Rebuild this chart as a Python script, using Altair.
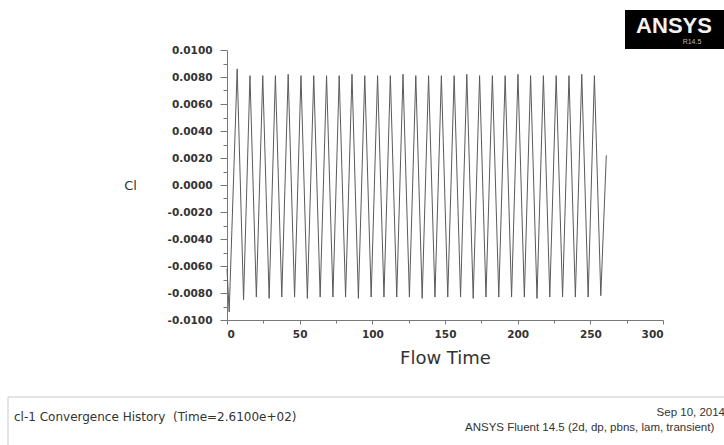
import altair as alt
import pandas as pd

# ---- data ----
start_t = [0.0, 1.5]
start_cl = [-0.0062, -0.0094]
peak_t = [7.0, 15.8, 24.6, 33.3, 42.1, 50.9, 59.7, 68.5, 77.2, 86.0, 94.8, 103.6, 112.4, 121.1, 129.9,
          138.7, 147.5, 156.3, 165.0, 173.8, 182.6, 191.4, 200.2, 208.9, 217.7, 226.5, 235.3, 244.1, 252.8]
peak_cl = [0.0086, 0.0081, 0.0081, 0.0081, 0.0082, 0.0081, 0.0081, 0.0081, 0.0081, 0.0082, 0.0081, 0.0081,
           0.0081, 0.0082, 0.0081, 0.0081, 0.0081, 0.0081, 0.0082, 0.0081, 0.0081, 0.0081, 0.0082, 0.0081,
           0.0081, 0.0081, 0.0081, 0.0082, 0.0081]
trough_t = [11.4, 20.2, 29.0, 37.7, 46.5, 55.3, 64.1, 72.9, 81.6, 90.4, 99.2, 108.0, 116.8, 125.5, 134.3,
            143.1, 151.9, 160.7, 169.4, 178.2, 187.0, 195.8, 204.6, 213.3, 222.1, 230.9, 239.7, 248.5, 257.2]
trough_cl = [-0.0085, -0.0083, -0.0084, -0.0083, -0.0083, -0.0084, -0.0083, -0.0083, -0.0083, -0.0084,
             -0.0083, -0.0083, -0.0083, -0.0083, -0.0084, -0.0083, -0.0083, -0.0083, -0.0084, -0.0083,
             -0.0083, -0.0083, -0.0083, -0.0084, -0.0083, -0.0083, -0.0083, -0.0083, -0.0082]
end_t = [261.0]
end_cl = [0.0022]

x_ticks = [0, 50, 100, 150, 200, 250, 300]
x_minor = [25, 75, 125, 175, 225, 275]
y_ticks = [-0.01, -0.008, -0.006, -0.004, -0.002, 0.0, 0.002, 0.004, 0.006, 0.008, 0.01]
y_minor = [-0.009, -0.007, -0.005, -0.003, -0.001, 0.001, 0.003, 0.005, 0.007, 0.009]

footer_left = "cl-1 Convergence History \u00a0(Time=2.6100e+02)"
footer_date = "Sep 10, 2014"
footer_solver = "ANSYS Fluent 14.5 (2d, dp, pbns, lam, transient)"

# ---- build table ----
ts, vs = list(start_t), list(start_cl)
for a, b, c, d in zip(peak_t, peak_cl, trough_t, trough_cl):
    ts += [a, c]
    vs += [b, d]
ts += end_t
vs += end_cl
df = pd.DataFrame({"t": ts, "cl": vs, "order": range(len(ts))})

W, H = 436, 270
LEFT, TOP = 227, 50
FONT = "DejaVu Sans"
AX = "#777777"
TXT = "#333333"

xscale = alt.Scale(domain=[0, 300], nice=False, zero=False)
yscale = alt.Scale(domain=[-0.01, 0.01], nice=False, zero=False)

ylabel_expr = "datum.value < 0 ? '-' + format(-datum.value, '.4f') : format(datum.value, '.4f')"

line = alt.Chart(df).mark_line(color="#5a5a5a", strokeWidth=1).encode(
    x=alt.X("t:Q", scale=xscale,
            axis=alt.Axis(values=x_ticks, format="d", title="Flow Time", orient="bottom",
                          grid=False, domainColor=AX, tickColor=AX, tickSize=4, labelPadding=5,
                          labelFont=FONT, labelFontSize=10.5, labelFontWeight="bold", labelColor=TXT,
                          titleFont=FONT, titleFontSize=18, titleFontWeight="normal", titleColor=TXT,
                          titleX=W / 2, titleY=38, titleAlign="center", titleBaseline="middle")),
    y=alt.Y("cl:Q", scale=yscale,
            axis=alt.Axis(values=y_ticks, labelExpr=ylabel_expr, title="Cl", orient="left",
                          grid=False, domainColor=AX, tickColor=AX, tickSize=7, labelPadding=8,
                          labelFont=FONT, labelFontSize=10.5, labelFontWeight="bold", labelColor=TXT,
                          titleFont=FONT, titleFontSize=13, titleFontWeight="normal", titleColor=TXT,
                          titleAngle=0, titleX=-97, titleY=H / 2, titleAlign="center",
                          titleBaseline="middle")),
    order="order:Q",
)

minor = alt.Chart(df).mark_line(opacity=0).encode(
    x=alt.X("t:Q", scale=xscale,
            axis=alt.Axis(values=x_minor, labels=False, title=None, orient="bottom", grid=False,
                          domain=False, tickColor=AX, tickSize=3)),
    y=alt.Y("cl:Q", scale=yscale,
            axis=alt.Axis(values=y_minor, labels=False, title=None, orient="left", grid=False,
                          domain=False, tickColor=AX, tickSize=4)),
    order="order:Q",
)

one = pd.DataFrame({"a": [0]})

logo_box = alt.Chart(one).mark_rect(color="#000000").encode(
    x=alt.value(625 - LEFT), x2=alt.value(724 - LEFT), y=alt.value(10 - TOP), y2=alt.value(49 - TOP))
logo_txt = alt.Chart(one).mark_text(text="ANSYS", font="Liberation Sans", fontSize=22, fontWeight="bold",
                                    color="#f2f2f2", align="center", baseline="middle").encode(
    x=alt.value(674 - LEFT), y=alt.value(26 - TOP))
logo_ver = alt.Chart(one).mark_text(text="R14.5", font="Liberation Sans", fontSize=7, color="#bbbbbb",
                                    align="center", baseline="middle").encode(
    x=alt.value(692 - LEFT), y=alt.value(42 - TOP))

footer_box = alt.Chart(one).mark_rect(fill="#ffffff", fillOpacity=0, stroke="#c8c8c8", strokeWidth=1).encode(
    x=alt.value(8 - LEFT), x2=alt.value(740 - LEFT), y=alt.value(397 - TOP), y2=alt.value(470 - TOP))
f1 = alt.Chart(one).mark_text(text=footer_left, font=FONT, fontSize=12, color=TXT,
                              align="left", baseline="middle").encode(
    x=alt.value(14 - LEFT), y=alt.value(417 - TOP))
f2 = alt.Chart(one).mark_text(text=footer_date, font="Liberation Sans", fontSize=11.5, color=TXT,
                              align="right", baseline="middle").encode(
    x=alt.value(725 - LEFT), y=alt.value(413 - TOP))
f3 = alt.Chart(one).mark_text(text=footer_solver, font="Liberation Sans", fontSize=11.5, color=TXT,
                              align="left", baseline="middle").encode(
    x=alt.value(465 - LEFT), y=alt.value(428 - TOP))

chart = alt.layer(line, minor, logo_box, logo_txt, logo_ver, footer_box, f1, f2, f3).resolve_axis(
    x="independent", y="independent"
).properties(
    width=W, height=H,
    autosize=alt.AutoSizeParams(type="none"),
    padding={"left": LEFT, "top": TOP, "right": 724 - LEFT - W, "bottom": 445 - TOP - H},
    background="#ffffff",
).configure_view(stroke="transparent")

chart.save("out.html", embed_options={"renderer": "svg", "actions": False})
